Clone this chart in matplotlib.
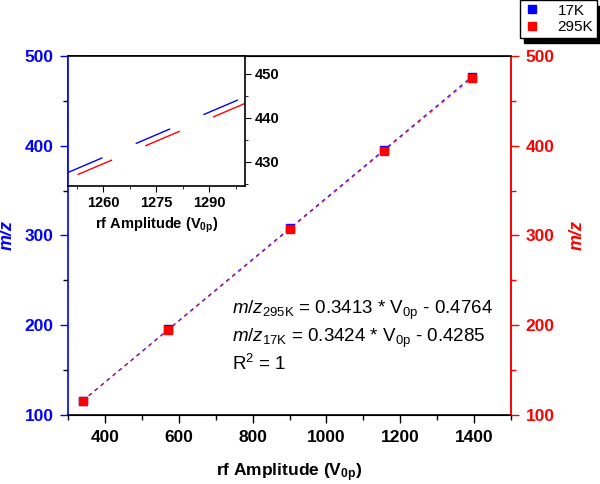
import numpy as np
import matplotlib
matplotlib.use('Agg')
import matplotlib.pyplot as plt
from matplotlib.ticker import MultipleLocator

plt.rcParams['font.family'] = ['Liberation Sans', 'DejaVu Sans']
plt.rcParams['mathtext.fontset'] = 'custom'
plt.rcParams['mathtext.rm'] = 'Liberation Sans'
plt.rcParams['mathtext.it'] = 'Liberation Sans:italic'
plt.rcParams['mathtext.bf'] = 'Liberation Sans:bold'

# data
rf_amp = [340, 572, 902, 1157, 1395]
mz_17k = [116, 195.5, 308.5, 395.5, 477]
mz_295k = [115.5, 195, 307.5, 394.5, 475.5]

# linear fits (slope, intercept)
fit_17k = (0.3424, -0.4285)
fit_295k = (0.3413, -0.4764)

fig = plt.figure(figsize=(6, 4.84), dpi=100)
ax = fig.add_axes([0.1133, 0.1426, 0.7384, 0.7417])

xfit = np.linspace(min(rf_amp), max(rf_amp), 200)
ax.plot(xfit, fit_17k[0] * xfit + fit_17k[1], color='blue', lw=0.8, dashes=(3.5, 3.5))
ax.plot(xfit, fit_295k[0] * xfit + fit_295k[1], color='red', lw=0.8, dashes=(3.5, 3.5),
        alpha=0.7)
ax.plot(rf_amp, mz_17k, 's', color='blue', ms=6, label='17K', zorder=3)
ax.plot(rf_amp, mz_295k, 's', color='red', ms=6, label='295K', zorder=4)

ax.set_xlim(300, 1500)
ax.set_ylim(100, 500)
ax.xaxis.set_major_locator(MultipleLocator(200))
ax.xaxis.set_minor_locator(MultipleLocator(100))
ax.yaxis.set_major_locator(MultipleLocator(100))
ax.yaxis.set_minor_locator(MultipleLocator(50))
ax.tick_params(which='both', direction='out', top=False, right=False)
ax.tick_params(which='major', length=5.5, width=1, pad=5)
ax.tick_params(which='minor', length=3.5, width=1)
ax.tick_params(axis='y', colors='blue', labelsize=12.5)
ax.tick_params(axis='x', labelsize=12.5)
for lab in ax.get_xticklabels() + ax.get_yticklabels():
    lab.set_fontweight('bold')
ax.spines['left'].set_color('blue')
ax.spines['right'].set_color('red')
for s in ax.spines.values():
    s.set_linewidth(1.2)
ax.set_xlabel('rf Amplitude (V$_{\\mathbf{0p}}$)', fontsize=12.5, fontweight='bold', labelpad=12)
ax.set_ylabel('m/z', fontsize=13, fontweight='bold', style='italic', color='blue')
ax.yaxis.set_label_coords(-0.118, 0.5)

ax2 = ax.twinx()
ax2.set_ylim(100, 500)
ax2.yaxis.set_major_locator(MultipleLocator(100))
ax2.yaxis.set_minor_locator(MultipleLocator(50))
ax2.tick_params(which='both', direction='out', colors='red', labelsize=12.5)
ax2.tick_params(which='major', length=5.5, width=1, pad=5)
ax2.tick_params(which='minor', length=3.5, width=1)
for lab in ax2.get_yticklabels():
    lab.set_fontweight('bold')
ax2.spines['right'].set_color('red')
ax2.spines['right'].set_linewidth(1.2)
ax2.spines['left'].set_visible(False)
ax2.set_ylabel('m/z', fontsize=13, fontweight='bold', style='italic', color='red', labelpad=10)

eq_kw = dict(fontsize=13.5, va='center', transform=ax.transData)
ax.text(744, 217, '$\\mathit{m/z}_{\\mathrm{295K}}$ = 0.3413 * V$_{\\mathrm{0p}}$ - 0.4764', **eq_kw)
ax.text(744, 185, '$\\mathit{m/z}_{\\mathrm{17K}}$ = 0.3424 * V$_{\\mathrm{0p}}$ - 0.4285', **eq_kw)
ax.text(744, 157, 'R$^2$ = 1', **eq_kw)

fig.legend(loc='upper right', bbox_to_anchor=(0.995, 1.0), frameon=True, fancybox=False,
           edgecolor='black', fontsize=11, handlelength=1.0, handletextpad=1.2,
           borderpad=0.25, labelspacing=0.15, borderaxespad=0,
           shadow={'color': 'black', 'alpha': 1, 'ox': 3, 'oy': -4})

# inset
ins = fig.add_axes([0.1133, 0.6157, 0.2947, 0.2686])
xin = np.linspace(1250, 1300, 100)
ins.plot(xin, fit_17k[0] * xin + fit_17k[1], color='blue', lw=1.0, dashes=(27, 26))
ins.plot(xin, fit_295k[0] * xin + fit_295k[1], color='red', lw=1.0,
         dashes=(0, 7.5, 27, 18.5))
ins.set_xlim(1250, 1300)
ins.set_ylim(424.5, 454)
ins.set_xticks([1260, 1275, 1290])
ins.set_xticks([1252.5, 1267.5, 1282.5, 1297.5], minor=True)
ins.yaxis.set_major_locator(MultipleLocator(10))
ins.yaxis.set_minor_locator(MultipleLocator(5))
ins.yaxis.tick_right()
ins.tick_params(which='both', direction='out', left=False, labelsize=10.5)
ins.tick_params(which='major', length=4)
ins.tick_params(which='minor', length=2.5)
for lab in ins.get_xticklabels() + ins.get_yticklabels():
    lab.set_fontweight('bold')
ins.spines['left'].set_color('blue')
for s in ins.spines.values():
    s.set_linewidth(1.2)
ins.set_xlabel('rf Amplitude (V$_{\\mathbf{0p}}$)', fontsize=10.5, fontweight='bold', labelpad=4)

fig.savefig('out.png', dpi=100)
